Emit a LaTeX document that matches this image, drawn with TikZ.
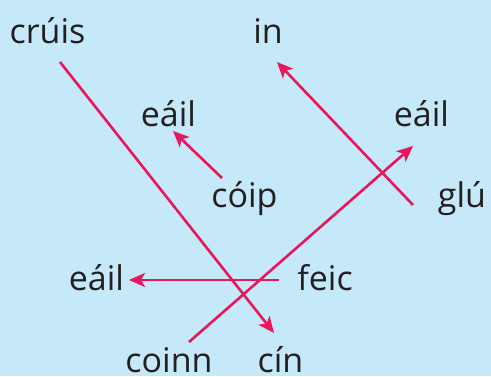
\documentclass[tikz,border=0pt]{standalone}
\usepackage{fontspec}
\setmainfont{Open Sans}
\usepackage{tikz}
\usetikzlibrary{arrows.meta,calc}

\definecolor{skyback}{HTML}{C6E9FA}
\definecolor{linkpink}{HTML}{E8175D}
\definecolor{inkdark}{HTML}{231F20}

\begin{document}
\begin{tikzpicture}[
  x=1pt, y=-1pt,
  word/.style={anchor=base, inner sep=0pt, text=inkdark, text depth=0pt,
               font=\fontsize{34}{40}\selectfont},
  link/.style={-{Stealth[length=16pt, width=14pt, inset=4pt]},
               draw=linkpink, line width=2.6pt},
]

% ---- background ----
\fill[skyback] (0,0) rectangle (491,376);
\useasboundingbox (0,0) rectangle (491,376);

% ---- words ----
\node[word] (crui)  at (47.5,43)  {crúis};
\node[word] (in-w)  at (268,43)   {in};
\node[word] (eailA) at (168.5,126) {eáil};
\node[word] (eailB) at (421.5,126) {eáil};
\node[word] (coip)  at (244.5,207) {cóip};
\node[word] (glu)   at (462,207)  {glú};
\node[word] (eailC) at (96.5,290) {eáil};
\node[word] (feic)  at (325,290)  {feic};
\node[word] (coinn) at (169,372)  {coinn};
\node[word] (cin)   at (280.5,372) {cín};

% ---- matching arrows ----
\draw[link] ($(crui.base)+(12.5,19)$)  -- ($(cin.base)+(-6.5,-39)$);
\draw[link] ($(coip.base)+(-22.5,-29)$) -- ($(eailA.base)+(4.5,5)$);
\draw[link] ($(glu.base)+(-49,-2)$)    -- ($(in-w.base)+(9,19)$);
\draw[link] ($(coinn.base)+(20,-30)$)  -- ($(eailB.base)+(-8.5,20)$);
\draw[link] ($(feic.base)+(-46,-10)$)  -- ($(eailC.base)+(32.5,-10)$);

\end{tikzpicture}
\end{document}
